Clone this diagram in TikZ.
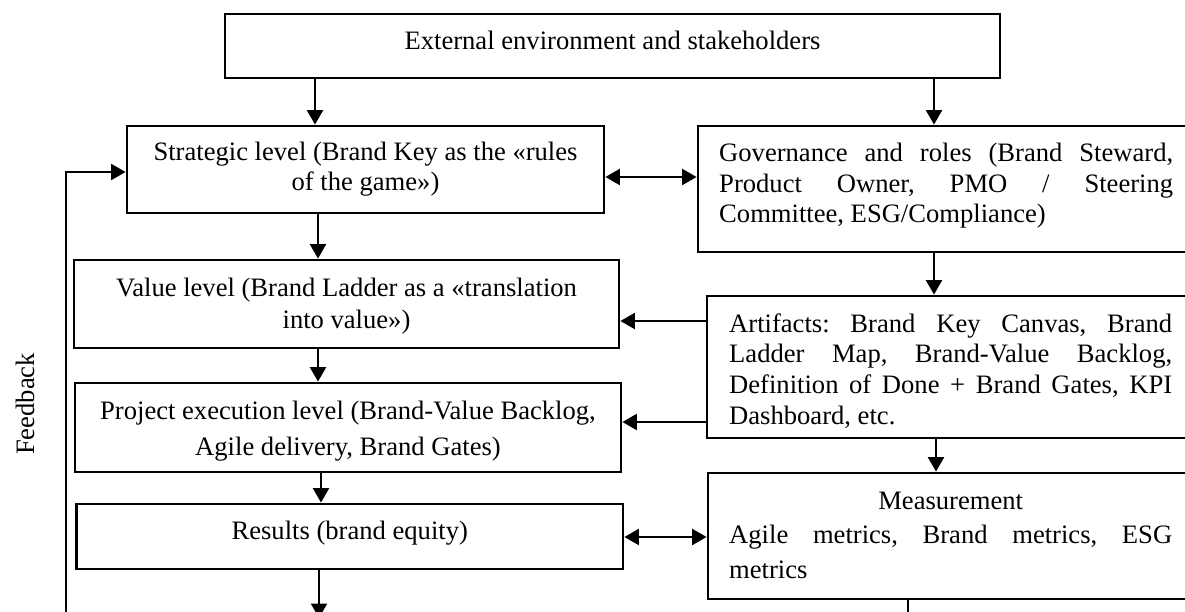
\documentclass[tikz,border=0pt]{standalone}
\usepackage{fontspec}
\setmainfont{Liberation Serif}
\usetikzlibrary{arrows.meta}
\frenchspacing
\begin{document}
\begin{tikzpicture}[x=1pt,y=-1pt,
  box/.style={draw=black, line width=2.8pt, rectangle, inner sep=0pt},
  conn/.style={line width=2.2pt},
  arr/.style={conn, -{Triangle[length=14.5pt,width=16pt]}},
  darr/.style={conn, {Triangle[length=14.5pt,width=16pt]}-{Triangle[length=14.5pt,width=16pt]}},
  lbl/.style={inner sep=0pt, anchor=base, font=\fontsize{26.6}{30.5}\selectfont},
]
\useasboundingbox (0,0) rectangle (1185,612);
\clip (0,0) rectangle (1185,612);

% frames
\node[box, minimum width=775pt, minimum height=64pt]  (ext)   at (612.5,46)  {};
\node[box, minimum width=477pt, minimum height=87pt]  (strat) at (365.5,169.5) {};
\node[box, minimum width=496pt, minimum height=126pt] (gov)   at (946,189)   {};
\node[box, minimum width=545pt, minimum height=88pt]  (value) at (346.5,304)  {};
\node[box, minimum width=487pt, minimum height=142pt] (art)   at (950.5,367)  {};
\node[box, minimum width=546pt, minimum height=89pt]  (proj)  at (348,427.5)  {};
\node[box, minimum width=546.5pt, minimum height=65pt] (res)  at (349.75,536.5) {};
\node[box, minimum width=486pt, minimum height=126pt] (meas)  at (951,536)   {};

% texts
\node[lbl] (ext-t) at (612.5,50) {External environment and stakeholders};
\node[lbl] (strat-t) at (365.5,161) {\parbox[t]{470pt}{\centering\fontsize{26.6}{30}\selectfont
  Strategic level (Brand Key as the «rules\\of the game»)}};
\node[lbl] (value-t) at (346.5,296) {\parbox[t]{530pt}{\centering\fontsize{26.6}{32}\selectfont
  Value level (Brand Ladder as a «translation\\into value»)}};
\node[lbl] (proj-t) at (348,419) {\parbox[t]{530pt}{\centering\fontsize{26.6}{36}\selectfont
  Project execution level (Brand-Value Backlog,\\Agile delivery, Brand Gates)}};
\node[lbl] (res-t) at (349.75,539) {Results (brand equity)};
\node[lbl, anchor=base west] (gov-t) at (719,162) {\parbox[t]{454pt}{\fontsize{26.6}{30.5}\selectfont
  \tolerance=10000\hbadness=10000
  Governance and roles (Brand Steward,\linebreak Product Owner, PMO / Steering\linebreak Committee, ESG/Compliance)}};
\node[lbl, anchor=base west] (art-t) at (729,332) {\parbox[t]{443pt}{\fontsize{26.6}{30.7}\selectfont
  \tolerance=10000\hbadness=10000
  Artifacts: Brand Key Canvas, Brand\linebreak Ladder Map, Brand-Value Backlog,\linebreak
  Definition of Done + Brand Gates, KPI\linebreak Dashboard, etc.}};
\node[lbl, anchor=base west] (meas-t) at (729,509) {\parbox[t]{443pt}{\fontsize{26.6}{34.5}\selectfont
  \tolerance=10000\hbadness=10000
  {\centering Measurement\par}Agile metrics, Brand metrics, ESG\linebreak metrics}};
\node[lbl, anchor=center, rotate=90] (fb-t) at (25,404) {Feedback};

% connectors
\draw[arr] (ext.south -| 315,0) -- (strat.north -| 315,0);
\draw[arr] (ext.south -| 934,0) -- (gov.north -| 934,0);
\draw[darr] (strat.east |- 0,177) -- (gov.west |- 0,177);
\draw[arr] (strat.south -| 318,0) -- (value.north -| 318,0);
\draw[arr] (gov.south -| 934,0) -- (art.north -| 934,0);
\draw[arr] (art.west |- 0,321) -- (value.east |- 0,321);
\draw[arr] (value.south -| 318,0) -- (proj.north -| 318,0);
\draw[arr] (art.west |- 0,422) -- (proj.east |- 0,422);
\draw[arr] (art.south -| 936,0) -- (meas.north -| 936,0);
\draw[arr] (proj.south -| 321,0) -- (res.north -| 321,0);
\draw[darr] (res.east |- 0,537) -- (meas.west |- 0,537);

\coordinate (resdown) at (319,618);
\draw[arr] (res.south -| 319,0) -- (resdown);
\coordinate (measdown) at (908,625);
\draw[conn] (meas.south -| 908,0) -- (measdown);
\coordinate (fbstart) at (66,625);
\draw[arr] (fbstart) |- (strat.west |- 0,172);
\end{tikzpicture}
\end{document}
